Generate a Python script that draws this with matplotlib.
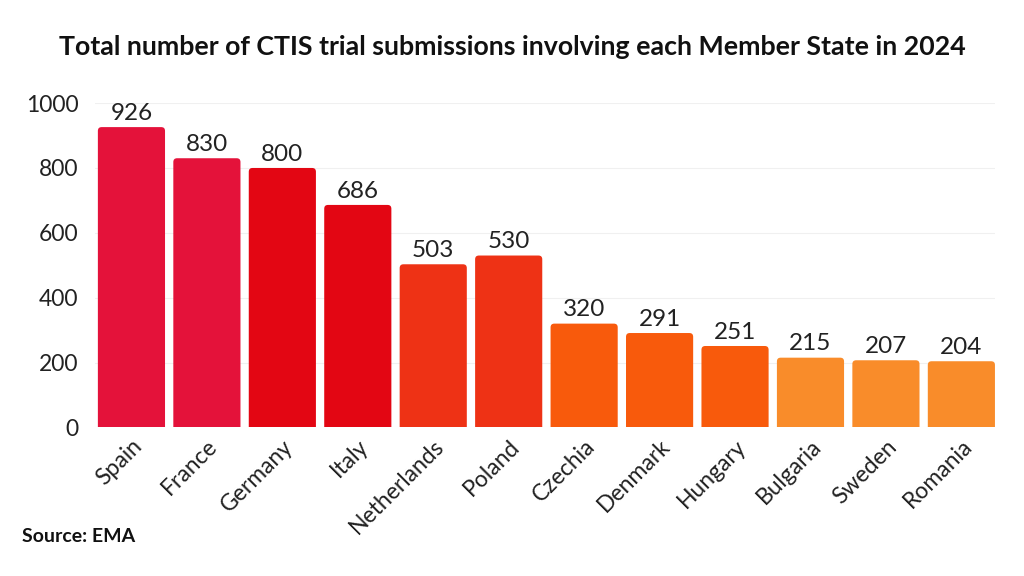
import matplotlib.pyplot as plt
from matplotlib.patches import FancyBboxPatch

plt.rcParams['font.family'] = ['Lato', 'DejaVu Sans']

countries = ['Spain', 'France', 'Germany', 'Italy', 'Netherlands', 'Poland',
             'Czechia', 'Denmark', 'Hungary', 'Bulgaria', 'Sweden', 'Romania']
submissions = [926, 830, 800, 686, 503, 530, 320, 291, 251, 215, 207, 204]
colors = ['#E4123A', '#E4123A', '#E30613', '#E30613', '#EE3215', '#EE3215',
          '#F85A0C', '#F85A0C', '#F85A0C', '#F98C2A', '#F98C2A', '#F98C2A']

fig = plt.figure(figsize=(10.24, 5.76), dpi=100)
ax = fig.add_axes([0.093, 0.258, 0.879, 0.563])

bars = ax.bar(range(len(countries)), submissions, width=0.89, color=colors)
# swap plain rectangles for slightly rounded ones (bottom corners hidden below 0)
for b in bars:
    x, w, h = b.get_x(), b.get_width(), b.get_height()
    b.set_visible(False)
    ax.add_patch(FancyBboxPatch((x, -30), w, h + 30, boxstyle='round,pad=0,rounding_size=0.05',
                                mutation_aspect=230, fc=b.get_facecolor(), ec='none', zorder=3))

for i, v in enumerate(submissions):
    ax.text(i, v + 10, str(v), ha='center', va='bottom', fontsize=17.5, color='#222222')

ax.set_xlim(-0.48, 11.45)
ax.set_ylim(0, 1000)
ax.set_yticks([0, 200, 400, 600, 800, 1000])
ax.tick_params(axis='y', labelsize=16.5, length=0, pad=12, colors='#222222')
ax.tick_params(axis='x', labelsize=16.5, length=0, pad=6, colors='#222222')
ax.set_xticks(range(len(countries)))
ax.set_xticklabels(countries, rotation=45, ha='right', rotation_mode='anchor')
ax.grid(axis='y', color='#f0f0f0', linewidth=0.8, zorder=0)
ax.set_axisbelow(True)
for s in ax.spines.values():
    s.set_visible(False)

fig.text(0.5, 0.918, 'Total number of CTIS trial submissions involving each Member State in 2024',
         ha='center', va='center', fontsize=19.3, fontweight='bold', color='#111111')
fig.text(0.021, 0.068, 'Source: EMA', ha='left', va='center', fontsize=14,
         fontweight='bold', color='#111111')

fig.savefig('out.png', dpi=100, facecolor='white')
